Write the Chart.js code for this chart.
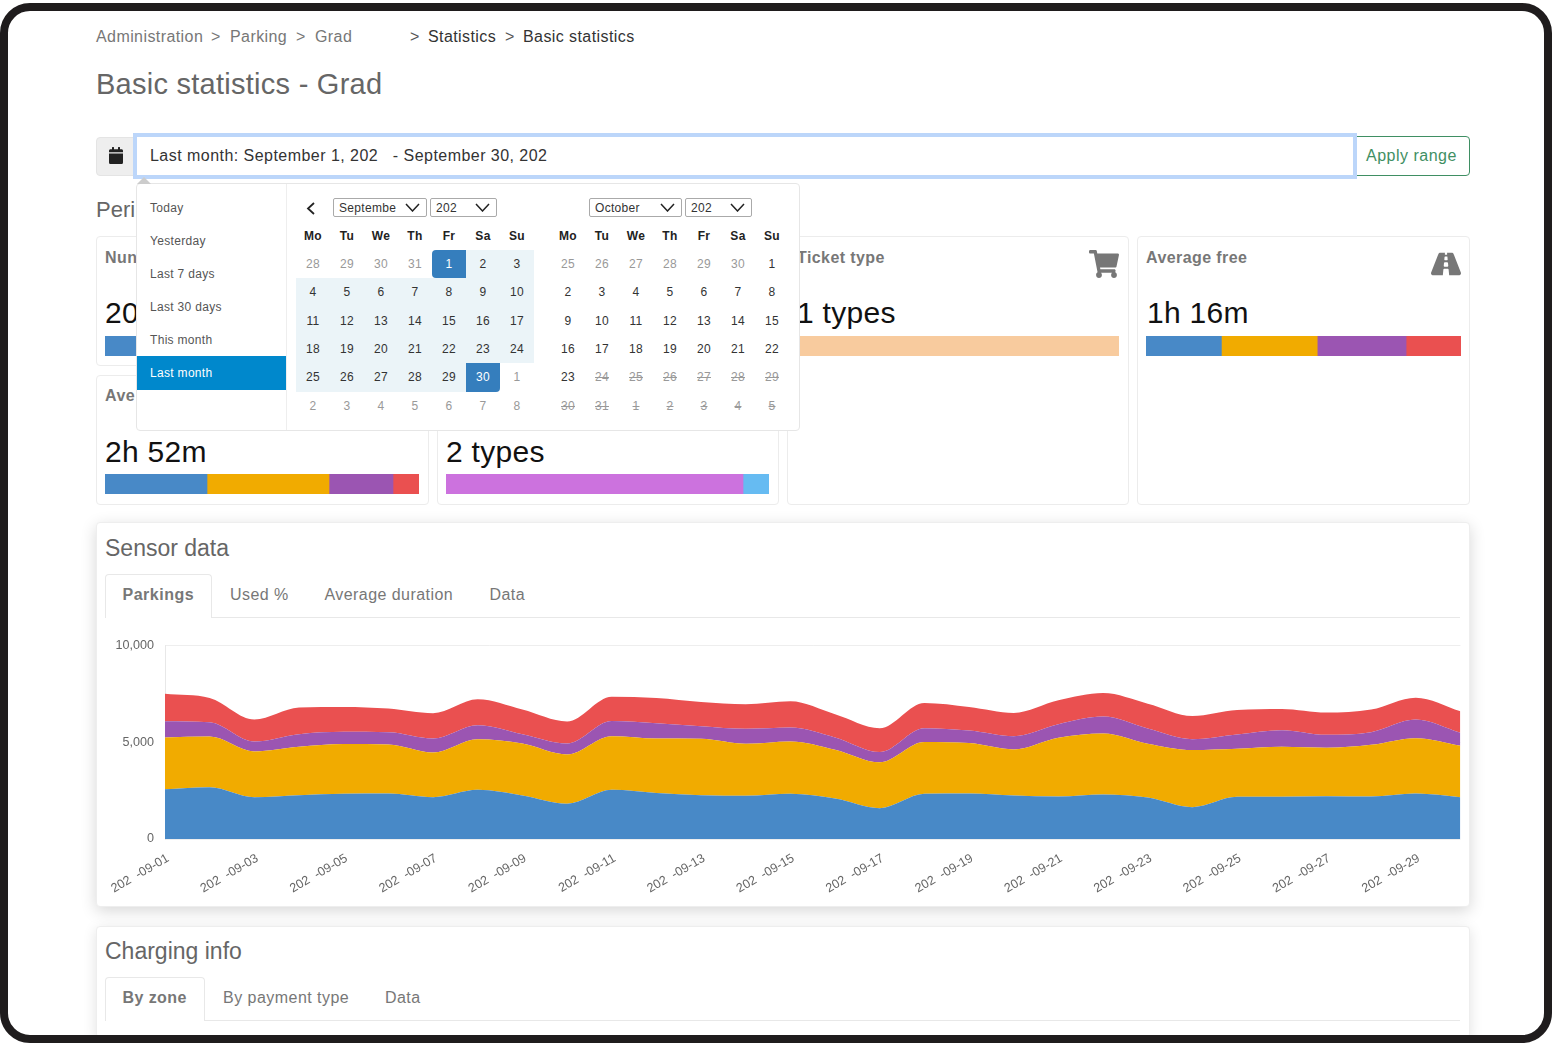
<!DOCTYPE html>
<html>
<head>
<meta charset="utf-8">
<title>Basic statistics - Grad</title>
<script src="https://cdn.jsdelivr.net/npm/chart.js@4"></script>
<style>
html, body { margin: 0; padding: 0; background: #fff; }
body { width: 1553px; height: 1044px; overflow: hidden; position: relative; font-family: "Liberation Sans", Arial, sans-serif; color: #333; }
.abs { position: absolute; white-space: pre; line-height: 1; }
canvas { position: absolute; display: block; }
svg { position: absolute; }
</style>
</head>
<body>
<script>
// chart data
var dates = ["202  -09-01", "202  -09-02", "202  -09-03", "202  -09-04", "202  -09-05", "202  -09-06", "202  -09-07", "202  -09-08", "202  -09-09", "202  -09-10",
    "202  -09-11", "202  -09-12", "202  -09-13", "202  -09-14", "202  -09-15", "202  -09-16", "202  -09-17", "202  -09-18", "202  -09-19", "202  -09-20",
    "202  -09-21", "202  -09-22", "202  -09-23", "202  -09-24", "202  -09-25", "202  -09-26", "202  -09-27", "202  -09-28", "202  -09-29", "202  -09-30"];
var blueValues = [2573, 2675, 2160, 2264, 2333, 2350, 2160, 2540, 2247, 1818, 2540, 2384, 2264, 2230, 2333, 2093, 1595, 2333, 2350, 2247, 2196, 2298, 2144, 1647, 2178, 2178, 2213, 2196, 2350, 2161];
var orangeValues = [2676, 2625, 2368, 2504, 2573, 2539, 2317, 2623, 2693, 2556, 2777, 2813, 2916, 2693, 2710, 2521, 2367, 2676, 2607, 2384, 3036, 3157, 2779, 2950, 2487, 2590, 2504, 2675, 2864, 2659];
var purpleValues = [840, 738, 515, 652, 634, 634, 720, 720, 480, 566, 789, 789, 652, 772, 720, 635, 532, 720, 652, 686, 703, 874, 789, 566, 738, 858, 669, 652, 961, 669];
var redValues = [1424, 1252, 1132, 1372, 1287, 1218, 1304, 1338, 1270, 1132, 1252, 1304, 1252, 1269, 1355, 1200, 1235, 1304, 1218, 1201, 1235, 1218, 1286, 1201, 1269, 1098, 1149, 1167, 1132, 1115];
var yTicks = [0, 5000, 10000];

// small summary bars
var numberShares = [100];
var durationShares = [102, 122, 64, 26];
var paymentShares = [297, 26];
var ticketShares = [100];
var freeShares = [75.5, 96, 89, 55];

// calendar
var weekDays = ["Mo", "Tu", "We", "Th", "Fr", "Sa", "Su"];
var septemberDays = [28, 29, 30, 31, 1, 2, 3, 4, 5, 6, 7, 8, 9, 10, 11, 12, 13, 14, 15, 16, 17, 18, 19, 20, 21, 22, 23, 24, 25, 26, 27, 28, 29, 30, 1, 2, 3, 4, 5, 6, 7, 8];
var octoberDays = [25, 26, 27, 28, 29, 30, 1, 2, 3, 4, 5, 6, 7, 8, 9, 10, 11, 12, 13, 14, 15, 16, 17, 18, 19, 20, 21, 22, 23, 24, 25, 26, 27, 28, 29, 30, 31, 1, 2, 3, 4, 5];
var presets = ["Today", "Yesterday", "Last 7 days", "Last 30 days", "This month", "Last month"];

var BLUE = "#4889c7", ORANGE = "#f1ab00", PURPLE = "#9b55b2", RED = "#ea5050";

function box(left, top, width, height, css) {
    var d = document.createElement("div");
    d.style.cssText = "position:absolute;box-sizing:border-box;left:" + left + "px;top:" + top + "px;width:" + width + "px;height:" + height + "px;" + (css || "");
    document.body.appendChild(d);
    return d;
}

// text centred vertically on y
function text(str, x, y, size, color, extra) {
    var d = document.createElement("div");
    d.className = "abs";
    d.textContent = str;
    d.style.cssText = "left:" + x + "px;top:" + (y - size / 2) + "px;font-size:" + size + "px;color:" + color + ";letter-spacing:" + (size * 0.026) + "px;" + (extra || "");
    document.body.appendChild(d);
    return d;
}

function icon(path, vb, left, top, width, height, color) {
    var html = '<svg viewBox="' + vb + '" style="left:' + left + 'px;top:' + top + 'px;width:' + width + 'px;height:' + height + 'px;z-index:1" preserveAspectRatio="none"><path fill="' + color + '" d="' + path + '"/></svg>';
    document.body.insertAdjacentHTML("beforeend", html);
}

function stackBar(left, top, width, height, values, colors) {
    var c = document.createElement("canvas");
    c.width = width;
    c.height = height;
    c.style.left = left + "px";
    c.style.top = top + "px";
    document.body.appendChild(c);
    var total = values.reduce(function (a, b) { return a + b; }, 0);
    new Chart(c, {
        type: "bar",
        data: {
            labels: [""],
            datasets: values.map(function (v, i) {
                return { data: [v], backgroundColor: colors[i], barPercentage: 1, categoryPercentage: 1, borderWidth: 0 };
            })
        },
        options: {
            indexAxis: "y",
            responsive: false,
            animation: false,
            layout: { padding: 0 },
            plugins: { legend: { display: false }, tooltip: { enabled: false } },
            scales: {
                x: { stacked: true, display: false, min: 0, max: total },
                y: { stacked: true, display: false }
            }
        }
    });
}

// header
var crumbs = [["Administration", 96, "#777"], [">", 211, "#777"], ["Parking", 230, "#777"], [">", 296, "#777"], ["Grad", 315, "#777"],
    [">", 410, "#555"], ["Statistics", 428, "#333"], [">", 505, "#555"], ["Basic statistics", 523, "#333"]];
crumbs.forEach(function (c) { text(c[0], c[1], 36.5, 16, c[2]); });
text("Basic statistics - Grad", 96, 84, 29, "#666", "letter-spacing:0.26px");

// date range input
box(96, 137, 40, 39, "background:#eee;border-radius:4px 0 0 4px;border:1px solid #e4e4e4");
icon("M0 464c0 26.5 21.5 48 48 48h352c26.5 0 48-21.5 48-48V192H0v272zM400 64h-48V16c0-8.8-7.2-16-16-16h-32c-8.8 0-16 7.2-16 16v48H160V16c0-8.8-7.2-16-16-16h-32c-8.8 0-16 7.2-16 16v48H48C21.5 64 0 85.5 0 112v48h448v-48c0-26.5-21.5-48-48-48z", "0 0 448 512", 109, 147, 14, 17, "#222");
box(1355, 136, 115, 40, "border:1px solid #3f8f63;border-radius:0 4px 4px 0;background:#fff");
text("Apply range", 1366, 155.5, 16, "#3f8f63", "letter-spacing:0.5px");
box(133, 133, 1224, 46, "border:4px solid #bcd6fa;background:#fff;z-index:1");
text("Last month: September 1, 202   - September 30, 202", 150, 155.5, 16, "#333", "z-index:2;letter-spacing:0.46px");

text("Peri", 96, 209.5, 22, "#666", "letter-spacing:0");

// summary cards
box(96, 236, 333, 130, "background:#fff;border:1px solid #ececec;border-radius:4px");
box(437, 236, 342, 130, "background:#fff;border:1px solid #ececec;border-radius:4px");
box(787, 236, 342, 269, "background:#fff;border:1px solid #ececec;border-radius:4px");
box(1137, 236, 333, 269, "background:#fff;border:1px solid #ececec;border-radius:4px");
box(96, 375, 333, 130, "background:#fff;border:1px solid #ececec;border-radius:4px");
box(437, 375, 342, 130, "background:#fff;border:1px solid #ececec;border-radius:4px");

text("Nun", 105, 257.5, 16, "#777", "font-weight:bold");
text("20", 105, 313, 30, "#111", "letter-spacing:0.28px");
stackBar(105, 336, 314, 20, numberShares, [BLUE]);
text("Ave", 105, 395.5, 16, "#777", "font-weight:bold");
text("2h 52m", 105, 452, 30, "#111", "letter-spacing:0.28px");
stackBar(105, 474, 314, 20, durationShares, [BLUE, ORANGE, PURPLE, RED]);
text("2 types", 446, 452, 30, "#111", "letter-spacing:0.28px");
stackBar(446, 474, 323, 20, paymentShares, ["#cc72de", "#66bbf2"]);
text("Ticket type", 797, 257.5, 16, "#777", "font-weight:bold");
text("1 types", 797, 313, 30, "#111", "letter-spacing:0.28px");
stackBar(797, 336, 322, 20, ticketShares, ["#f8cb9e"]);
text("Average free", 1146, 257.5, 16, "#777", "font-weight:bold");
text("1h 16m", 1147, 313, 30, "#111", "letter-spacing:0.28px");
stackBar(1146, 336, 315, 20, freeShares, [BLUE, ORANGE, PURPLE, RED]);
icon("M528.12 301.319l47.273-208C578.806 78.301 567.391 64 551.99 64H159.208l-9.166-44.81C147.758 8.021 137.93 0 126.529 0H24C10.745 0 0 10.745 0 24v16c0 13.255 10.745 24 24 24h69.883l70.248 343.435C147.325 417.1 136 435.222 136 456c0 30.928 25.072 56 56 56s56-25.072 56-56c0-15.674-6.447-29.835-16.824-40h209.647C430.447 426.165 424 440.326 424 456c0 30.928 25.072 56 56 56s56-25.072 56-56c0-22.172-12.888-41.332-31.579-50.405l5.517-24.276c3.413-15.018-8.002-29.319-23.403-29.319H218.117l-6.545-32h293.145c11.206 0 20.92-7.754 23.403-18.681z", "0 0 576 512", 1089, 250, 30, 28, "#777");
icon("M573.19 402.67l-139.79-320C428.43 71.29 417.6 64 405.68 64h-97.59l2.45 23.16c.5 4.72-3.21 8.84-7.96 8.84h-29.16c-4.75 0-8.46-4.12-7.96-8.84L267.91 64h-97.59c-11.93 0-22.76 7.29-27.73 18.67L2.8 402.67C-6.45 423.86 8.31 448 30.54 448h196.84l10.31-97.68c.86-8.14 7.72-14.32 15.91-14.32h68.8c8.19 0 15.05 6.18 15.91 14.32L348.62 448h196.84c22.23 0 36.99-24.14 27.73-45.33zM260.4 135.16a8 8 0 0 1 7.96-7.16h39.29c4.09 0 7.53 3.09 7.96 7.16l4.6 43.58c.75 7.09-4.81 13.26-11.93 13.26h-40.54c-7.13 0-12.68-6.17-11.93-13.26l4.6-43.58zM315.64 304h-55.29c-9.5 0-16.91-8.23-15.91-17.68l5.07-48c.86-8.14 7.72-14.32 15.91-14.32h45.15c8.19 0 15.05 6.18 15.91 14.32l5.07 48c1 9.45-6.41 17.68-15.91 17.68z", "0 50 576 412", 1431, 252, 30, 24, "#777");

// date picker popup
var Z = "z-index:5;";
box(136, 183, 664, 248, Z + "background:#fff;border:1px solid #e6e6e6;border-radius:4px;");
box(286, 184, 1, 246, Z + "background:#eee");
document.body.insertAdjacentHTML("beforeend", '<svg style="left:137px;top:177px;width:14px;height:7px;z-index:6"><path d="M0 7L7 0L14 7Z" fill="#ccc"/></svg><svg style="left:798px;top:177px;width:14px;height:7px;z-index:6"><path d="M2 7L7 2L12 7Z" fill="#fff"/></svg>');

box(137, 356, 149, 34, Z + "background:#0088cc");
presets.forEach(function (p, i) {
    text(p, 150, 208 + i * 33, 12, i == 5 ? "#fff" : "#555", "z-index:6");
});

function select(left, width, label) {
    box(left, 198, width, 19, "z-index:6;border:1px solid #aaa;border-radius:2px;background:#fff");
    text(label, left + 6, 208, 12, "#333", "z-index:7");
    document.body.insertAdjacentHTML("beforeend", '<svg style="left:' + (left + width - 22) + 'px;top:203px;width:15px;height:9px;z-index:7"><path d="M1 1L7.5 8L14 1" fill="none" stroke="#222" stroke-width="1.5"/></svg>');
}
document.body.insertAdjacentHTML("beforeend", '<svg style="left:306px;top:202px;width:10px;height:13px;z-index:7"><path d="M8 1L2 6.5L8 12" fill="none" stroke="#222" stroke-width="1.8"/></svg>');
select(333, 94, "Septembe");
select(430, 67, "202");
select(589, 93, "October");
select(685, 67, "202");

var rowY = [264, 292, 321, 349, 377, 406];
box(466, 250, 68, 28, Z + "background:#ebf4f8");
box(296, 278, 238, 85, Z + "background:#ebf4f8");
box(296, 363, 170, 29, Z + "background:#ebf4f8");
box(432, 250, 34, 28, Z + "background:#357ebd;border-radius:4px 0 0 4px");
box(466, 363, 34, 29, Z + "background:#357ebd;border-radius:0 0 4px 0");

function calendar(days, startX, firstIdx, lastIdx, struckFrom) {
    weekDays.forEach(function (w, i) {
        text(w, startX + i * 34 - 17, 236, 12, "#222", "z-index:7;font-weight:bold;width:34px;text-align:center");
    });
    days.forEach(function (d, i) {
        var col = i % 7, row = Math.floor(i / 7);
        var inside = i >= firstIdx && i <= lastIdx;
        var color = inside ? "#333" : "#999";
        var extra = "z-index:7;width:34px;text-align:center;";
        if (startX < 500 && (i == 4 || i == 33)) color = "#fff";
        if (struckFrom >= 0 && i >= struckFrom) extra += "text-decoration:line-through;";
        text(String(d), startX + col * 34 - 17, rowY[row], 12, color, extra);
    });
}
calendar(septemberDays, 313, 4, 33, -1);
calendar(octoberDays, 568, 6, 28, 29);

// sensor card
box(96, 522, 1374, 385, "background:#fff;border:1px solid #eee;border-radius:4px;box-shadow:0 4px 16px rgba(0,0,0,.16)");
text("Sensor data", 105, 548, 23, "#666", "letter-spacing:0");
box(105, 617, 1355, 1, "background:#e8e8e8");
box(105, 574, 107, 44, "background:#fff;border:1px solid #e8e8e8;border-bottom:none;border-radius:4px 4px 0 0");
text("Parkings", 122.5, 594.5, 16, "#777", "font-weight:bold;letter-spacing:0.5px");
text("Used %", 230, 594.5, 16, "#777", "letter-spacing:0.42px");
text("Average duration", 324.5, 594.5, 16, "#777", "letter-spacing:0.44px");
text("Data", 489.5, 594.5, 16, "#777", "letter-spacing:0.42px");

var chartCanvas = document.createElement("canvas");
chartCanvas.width = 1372;
chartCanvas.height = 275;
chartCanvas.style.left = "100px";
chartCanvas.style.top = "627px";
document.body.appendChild(chartCanvas);

function areaSet(label, values, color, fill) {
    return { label: label, data: values, backgroundColor: color, borderColor: color, borderWidth: 0, pointRadius: 0, cubicInterpolationMode: "monotone", fill: fill };
}

new Chart(chartCanvas, {
    type: "line",
    data: {
        labels: dates,
        datasets: [
            areaSet("Blue", blueValues, BLUE, "origin"),
            areaSet("Orange", orangeValues, ORANGE, "-1"),
            areaSet("Purple", purpleValues, PURPLE, "-1"),
            areaSet("Red", redValues, RED, "-1")
        ]
    },
    options: {
        responsive: false,
        animation: false,
        layout: { padding: { top: 12, right: 6, left: 0, bottom: 0 } },
        plugins: { legend: { display: false }, tooltip: { enabled: false } },
        scales: {
            y: {
                stacked: true,
                min: 0,
                max: 10000,
                afterBuildTicks: function (axis) { axis.ticks = yTicks.map(function (v) { return { value: v }; }); },
                afterFit: function (axis) { axis.width = 65; },
                grid: { color: "#eeeeee", drawTicks: false },
                border: { color: "#e8e8e8" },
                ticks: {
                    padding: 11,
                    color: "#666",
                    font: { family: "Liberation Sans", size: 12.6 },
                    callback: function (v) { return v.toLocaleString("en-US"); }
                }
            },
            x: {
                afterFit: function (axis) { axis.height = 63; },
                grid: { display: false },
                border: { display: false },
                ticks: {
                    autoSkip: false,
                    minRotation: 30,
                    maxRotation: 30,
                    padding: 4,
                    labelOffset: 3,
                    color: "#666",
                    font: { family: "Liberation Sans", size: 12.6 },
                    callback: function (v, i) { return i % 2 == 0 ? dates[i] : ""; }
                }
            }
        }
    }
});

// charging card
box(96, 926, 1374, 112, "background:#fff;border:1px solid #eee;border-radius:4px;box-shadow:0 3px 14px rgba(0,0,0,.12)");
text("Charging info", 105, 951.5, 23, "#666", "letter-spacing:0");
box(105, 1020, 1355, 1, "background:#e8e8e8");
box(105, 977, 100, 44, "background:#fff;border:1px solid #e8e8e8;border-bottom:none;border-radius:4px 4px 0 0");
text("By zone", 122.5, 998, 16, "#777", "font-weight:bold;letter-spacing:0.43px");
text("By payment type", 223, 998, 16, "#777", "letter-spacing:0.47px");
text("Data", 385, 998, 16, "#777", "letter-spacing:0.42px");

// device frame on top of everything; white strip below it hides the cards
box(0, 1043, 1553, 1, "background:#fff;z-index:19");
box(0, 3, 1552, 1040, "border:8px solid #1f1c1d;border-radius:30px;z-index:20;pointer-events:none");
</script>
</body>
</html>
